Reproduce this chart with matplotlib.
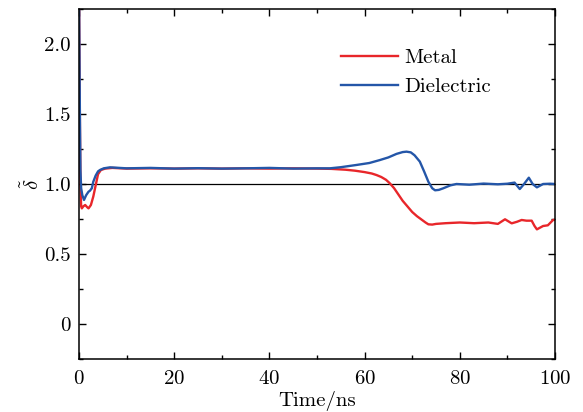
import numpy as np
import matplotlib.pyplot as plt
from matplotlib.ticker import MultipleLocator, FixedLocator, FixedFormatter

plt.rcParams['font.family'] = 'serif'
plt.rcParams['font.serif'] = ['cmr10']
plt.rcParams['mathtext.fontset'] = 'cm'
plt.rcParams['axes.formatter.use_mathtext'] = True

# normalised value vs time (ns)
t_metal = [0.0, 0.1, 0.2, 0.3, 0.45, 0.6, 0.9, 1.3, 1.7, 2.0, 2.5, 3.0, 3.5, 4.0, 4.6, 5.5,
           7, 10, 15, 20, 25, 30, 35, 40, 45, 50, 53, 56, 58, 60, 61.5, 62.5, 63.5, 64.5,
           65.3, 66.2, 67, 68, 69, 70, 71, 72, 72.8, 73.4, 74.2, 75, 77, 80, 83, 86, 88,
           89.5, 90.9, 92, 93, 94, 95.1, 95.7, 96.2, 97.5, 98.5, 99.6, 100]
metal = [2.40, 1.90, 1.40, 1.00, 0.84, 0.826, 0.84, 0.85, 0.835, 0.826, 0.85, 0.91, 0.99,
         1.07, 1.10, 1.11, 1.115, 1.11, 1.112, 1.11, 1.112, 1.11, 1.112, 1.11, 1.112, 1.11,
         1.108, 1.102, 1.095, 1.085, 1.075, 1.064, 1.05, 1.03, 1.005, 0.97, 0.93, 0.88,
         0.84, 0.80, 0.77, 0.745, 0.725, 0.712, 0.71, 0.715, 0.72, 0.725, 0.72, 0.725, 0.715,
         0.748, 0.719, 0.73, 0.743, 0.738, 0.738, 0.70, 0.676, 0.70, 0.705, 0.743, 0.745]

t_diel = [0.0, 0.1, 0.2, 0.3, 0.45, 0.7, 1.05, 1.5, 2.0, 2.3, 2.7, 3.0, 3.5, 4.0, 4.4, 5.2,
          6.5, 10, 15, 20, 25, 30, 35, 40, 45, 50, 52.7, 55, 58.3, 61, 63.2, 65, 66.7,
          68, 68.8, 69.7, 70.5, 71.6, 72.5, 73.4, 74.2, 74.8, 75.6, 76.5, 78, 79.3, 82,
          85, 88, 90, 91.5, 92.6, 93.5, 94.5, 95.3, 96.2, 97.5, 99, 100]
dielectric = [2.40, 1.90, 1.45, 1.10, 0.97, 0.92, 0.886, 0.92, 0.945, 0.952, 0.97, 1.016,
              1.06, 1.09, 1.10, 1.112, 1.119, 1.112, 1.115, 1.11, 1.113, 1.11, 1.112, 1.115,
              1.11, 1.112, 1.112, 1.12, 1.136, 1.15, 1.171, 1.19, 1.215, 1.228, 1.231, 1.226,
              1.205, 1.16, 1.09, 1.016, 0.97, 0.955, 0.958, 0.969, 0.99, 1.0, 0.995, 1.003,
              0.998, 1.002, 1.01, 0.964, 1.0, 1.045, 1.0, 0.976, 1.0, 1.002, 1.0]

y_ticks = [0, 0.5, 1.0, 1.5, 2.0]
y_tick_labels = ['0', '0.5', '1.0', '1.5', '2.0']

fig = plt.figure(figsize=(5.83, 4.12), dpi=100)
ax = fig.add_axes([79 / 583, 53 / 412, 476 / 583, 350 / 412])

ax.axhline(1.0, color='black', lw=0.9)
ax.plot(t_metal, metal, color='#e8262a', lw=1.7, label='Metal')
ax.plot(t_diel, dielectric, color='#2456a8', lw=1.7, label='Dielectric')

ax.set_xlim(0, 100)
ax.set_ylim(-0.25, 2.25)
ax.xaxis.set_major_locator(MultipleLocator(20))
ax.xaxis.set_minor_locator(MultipleLocator(10))
ax.yaxis.set_major_locator(FixedLocator(y_ticks))
ax.yaxis.set_major_formatter(FixedFormatter(y_tick_labels))
ax.yaxis.set_minor_locator(MultipleLocator(0.25))
ax.tick_params(which='both', direction='in', top=True, right=True, labelsize=15)
ax.tick_params(which='major', length=5, width=1, pad=6)
ax.tick_params(axis='x', which='major', pad=8)
ax.tick_params(which='minor', length=3, width=1)
for s in ax.spines.values():
    s.set_linewidth(1.1)

ax.set_xlabel('Time/ns', fontsize=15, labelpad=2)
ax.set_ylabel(r'$\tilde{\delta}$', fontsize=15, labelpad=1)

ax.legend(loc='center left', bbox_to_anchor=(0.55, 0.82), frameon=False, fontsize=15,
          borderpad=0, borderaxespad=0, handlelength=2.75, handletextpad=0.3,
          labelspacing=0.5)

fig.savefig('out.png', dpi=100)
